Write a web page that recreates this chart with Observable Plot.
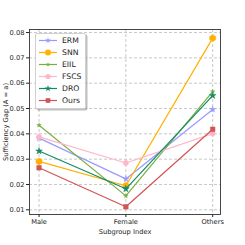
<!DOCTYPE html>
<html><head><meta charset="utf-8">
<script src="https://cdn.jsdelivr.net/npm/d3@7"></script>
<script src="https://cdn.jsdelivr.net/npm/@observablehq/plot@0.6"></script>
<style>
html,body{margin:0;padding:0;background:#fff;}
#wrap{position:relative;width:245px;height:245px;font-family:"DejaVu Sans",sans-serif;}
#legend{position:absolute;left:35px;top:33px;width:49px;height:74px;background:rgba(255,255,255,0.85);border:1px solid #d0d0d0;border-radius:2px;box-shadow:1.5px 1.5px 0 rgba(0,0,0,0.25);}
</style>
</head><body><div id="wrap"></div>
<script>
const categories = ["Male", "Female", "Others"];
const methods = ["ERM", "SNN", "EIIL", "FSCS", "DRO", "Ours"];
const ERM  = [0.0383, 0.0222, 0.0496];
const SNN  = [0.0291, 0.0195, 0.0778];
const EIIL = [0.0434, 0.0155, 0.0567];
const FSCS = [0.0388, 0.0285, 0.0401];
const DRO  = [0.0332, 0.0183, 0.0551];
const Ours = [0.0266, 0.0112, 0.0418];
const yTicks = [0.01, 0.02, 0.03, 0.04, 0.05, 0.06, 0.07, 0.08];

const seriesValues = {ERM, SNN, EIIL, FSCS, DRO, Ours};
const colors = {ERM:"#9a9aff", SNN:"#ffb000", EIIL:"#76b043", FSCS:"#ffb6c8", DRO:"#128a68", Ours:"#d35454"};
const symbols = {ERM:"star", SNN:"hexagon", EIIL:"star", FSCS:"circle", DRO:"star", Ours:"square"};
const sizes = {ERM:1.9, SNN:3.0, EIIL:1.4, FSCS:2.6, DRO:2.1, Ours:2.6};

const rows = [];
for (const m of methods) seriesValues[m].forEach((v,i)=>rows.push({method:m, x:i, v}));

const marks = [
  Plot.gridX([0,1,2], {stroke:"#b0b0b0", strokeOpacity:0.7, strokeDasharray:"3,2"}),
  Plot.gridY(yTicks, {stroke:"#b0b0b0", strokeOpacity:0.7, strokeDasharray:"3,2"}),
  Plot.axisX([0,1,2], {tickFormat:i=>categories[i], tickSize:3, fontSize:6.7, label:"Subgroup Index", labelAnchor:"center", labelArrow:"none", labelOffset:19, tickPadding:2, fill:"#222"}),
  Plot.axisY(yTicks, {tickFormat:d3.format(".2f"), tickSize:3, fontSize:6.7, label:"Sufficiency Gap (A = a)", labelAnchor:"center", labelArrow:"none", labelOffset:26, tickPadding:2, fill:"#222"}),
];
for (const m of methods) {
  const d = rows.filter(r=>r.method===m);
  marks.push(Plot.line(d, {x:"x", y:"v", stroke:colors[m], strokeWidth:1.2}));
  marks.push(Plot.dot(d, {x:"x", y:"v", fill:colors[m], stroke:colors[m], symbol:symbols[m], r:sizes[m], strokeWidth:0.5}));
}
marks.push(Plot.frame({stroke:"#333", strokeWidth:0.9}));

const chart = Plot.plot({
  width:245, height:245,
  marginLeft:29, marginRight:25, marginTop:29, marginBottom:31,
  style:{fontFamily:"DejaVu Sans", fontSize:"6.7px", color:"#222", background:"#fff"},
  x:{domain:[-0.11, 2.09], axis:null},
  y:{domain:[0.00815, 0.0812], axis:null},
  marks
});
const wrap = document.getElementById("wrap");
wrap.appendChild(chart);

// legend
const leg = document.createElement("div");
leg.id = "legend";
wrap.appendChild(leg);
const ns = "http://www.w3.org/2000/svg";
const svg = document.createElementNS(ns, "svg");
svg.setAttribute("width", 49); svg.setAttribute("height", 74);
leg.appendChild(svg);
const symMap = {star:d3.symbolStar, hexagon:d3.symbolCircle, circle:d3.symbolCircle, square:d3.symbolSquare};
methods.forEach((m,i)=>{
  const y = 6.5 + i*12;
  const line = document.createElementNS(ns,"line");
  line.setAttribute("x1",3); line.setAttribute("x2",21); line.setAttribute("y1",y); line.setAttribute("y2",y);
  line.setAttribute("stroke",colors[m]); line.setAttribute("stroke-width",1.2);
  svg.appendChild(line);
  const p = document.createElementNS(ns,"path");
  const sz = sizes[m];
  p.setAttribute("d", d3.symbol(symMap[symbols[m]], Math.PI*sz*sz)());
  p.setAttribute("transform",`translate(12,${y})`);
  p.setAttribute("fill",colors[m]);
  svg.appendChild(p);
  const t = document.createElementNS(ns,"text");
  t.setAttribute("x",26); t.setAttribute("y",y); t.setAttribute("dy","0.35em");
  t.setAttribute("font-size","7.7px"); t.setAttribute("font-family","DejaVu Sans"); t.setAttribute("fill","#222");
  t.textContent = m;
  svg.appendChild(t);
});
</script></body></html>
